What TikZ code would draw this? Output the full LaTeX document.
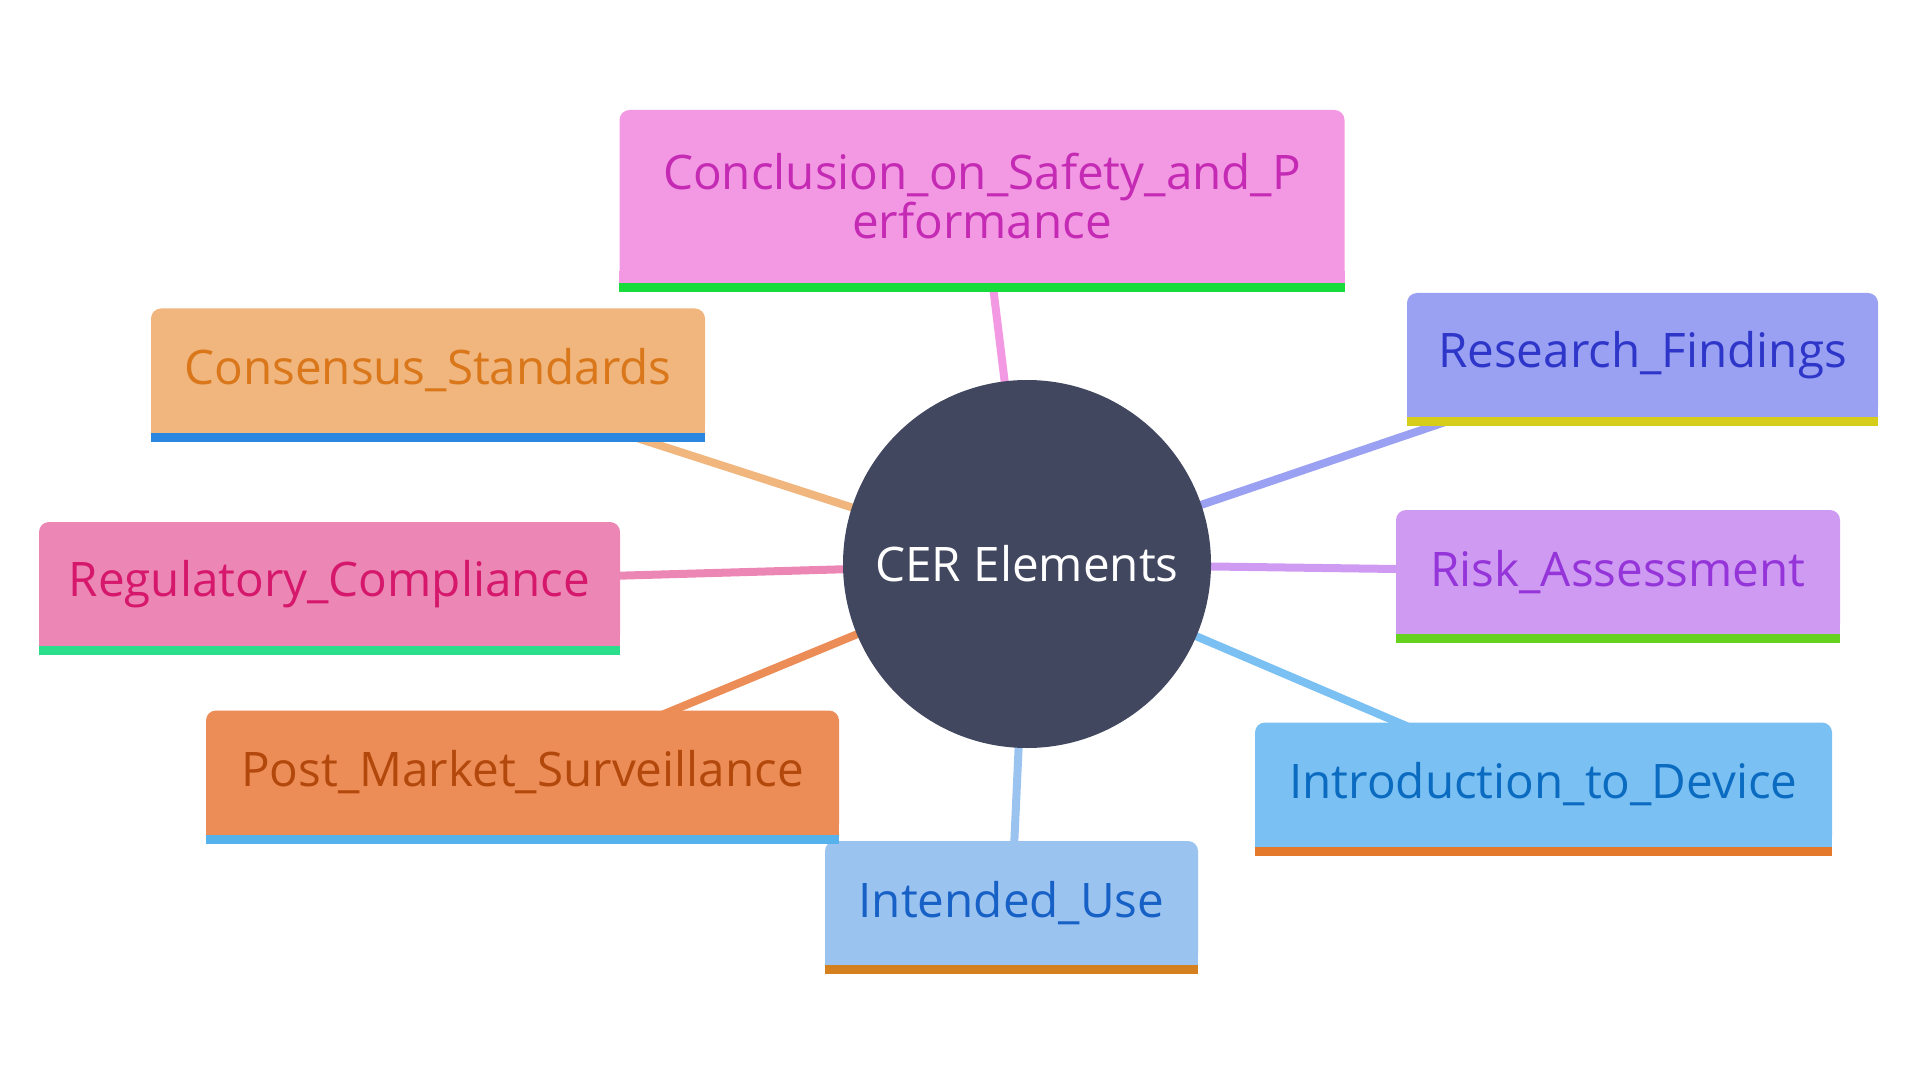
\documentclass[tikz,border=0pt]{standalone}
\usepackage{fontspec}
\setmainfont{Open Sans}
\usetikzlibrary{backgrounds}

\definecolor{hubfill}{HTML}{424760}
\definecolor{conclfill}{HTML}{F398E3}
\definecolor{concltext}{HTML}{C42AB4}
\definecolor{conclbar}{HTML}{18DB3C}
\definecolor{consfill}{HTML}{F0B67E}
\definecolor{constext}{HTML}{D9771A}
\definecolor{consbar}{HTML}{2A87E0}
\definecolor{resfill}{HTML}{9AA0F2}
\definecolor{restext}{HTML}{2D36C8}
\definecolor{resbar}{HTML}{D6CC1A}
\definecolor{regfill}{HTML}{EC86B4}
\definecolor{regtext}{HTML}{D6186C}
\definecolor{regbar}{HTML}{2ADE8C}
\definecolor{riskfill}{HTML}{CF9BF2}
\definecolor{risktext}{HTML}{9434D9}
\definecolor{riskbar}{HTML}{66D11E}
\definecolor{postfill}{HTML}{EC8C56}
\definecolor{posttext}{HTML}{B3480C}
\definecolor{postbar}{HTML}{56B2EC}
\definecolor{introfill}{HTML}{7BC0F2}
\definecolor{introtext}{HTML}{0A6BC0}
\definecolor{introbar}{HTML}{E5792B}
\definecolor{usefill}{HTML}{9BC3F0}
\definecolor{usetext}{HTML}{1660C6}
\definecolor{usebar}{HTML}{D4801F}

\begin{document}
\begin{tikzpicture}[x=0.5pt, y=-0.5pt, font=\fontsize{23.8}{24.5}\selectfont,
    hub/.style = {circle, fill=hubfill, text=white, minimum size=184pt, inner sep=0pt},
    leaf/.style = {rounded corners=5pt, minimum height=62pt, inner sep=0pt},
    link/.style = {line width=4pt}]
    \useasboundingbox (0,0) rectangle (1920,1080);

    \node[hub] (cer) at (1027, 564) {CER Elements};

    \node[leaf, fill=conclfill, text=concltext, minimum width=362.5pt, minimum height=86.5pt, align=center] (concl) at (982, 196.5) {Conclusion\_on\_Safety\_and\_P\\erformance};
    \node[leaf, fill=consfill, text=constext, minimum width=277pt] (cons) at (428, 370.5) {Consensus\_Standards};
    \node[leaf, fill=resfill, text=restext, minimum width=235.5pt] (res) at (1642.5, 355) {Research\_Findings};
    \node[leaf, fill=regfill, text=regtext, minimum width=290.5pt] (reg) at (329.5, 584) {Regulatory\_Compliance};
    \node[leaf, fill=riskfill, text=risktext, minimum width=222pt] (risk) at (1618, 572) {Risk\_Assessment};
    \node[leaf, fill=postfill, text=posttext, minimum width=316.5pt] (post) at (522.5, 772.5) {Post\_Market\_Surveillance};
    \node[leaf, fill=introfill, text=introtext, minimum width=288.5pt] (intro) at (1543.5, 784.5) {Introduction\_to\_Device};
    \node[leaf, fill=usefill, text=usetext, minimum width=186.5pt] (use) at (1011.5, 903) {Intended\_Use};

    % square bottoms and coloured bars
    \fill[conclfill] ([yshift=6pt]concl.south west) rectangle (concl.south east);
    \fill[conclbar] (concl.south west) rectangle ([yshift=-4.5pt]concl.south east);
    \fill[consfill] ([yshift=6pt]cons.south west) rectangle (cons.south east);
    \fill[consbar] (cons.south west) rectangle ([yshift=-4.5pt]cons.south east);
    \fill[resfill] ([yshift=6pt]res.south west) rectangle (res.south east);
    \fill[resbar] (res.south west) rectangle ([yshift=-4.5pt]res.south east);
    \fill[regfill] ([yshift=6pt]reg.south west) rectangle (reg.south east);
    \fill[regbar] (reg.south west) rectangle ([yshift=-4.5pt]reg.south east);
    \fill[riskfill] ([yshift=6pt]risk.south west) rectangle (risk.south east);
    \fill[riskbar] (risk.south west) rectangle ([yshift=-4.5pt]risk.south east);
    \fill[postfill] ([yshift=6pt]post.south west) rectangle (post.south east);
    \fill[postbar] (post.south west) rectangle ([yshift=-4.5pt]post.south east);
    \fill[introfill] ([yshift=6pt]intro.south west) rectangle (intro.south east);
    \fill[introbar] (intro.south west) rectangle ([yshift=-4.5pt]intro.south east);
    \fill[usefill] ([yshift=6pt]use.south west) rectangle (use.south east);
    \fill[usebar] (use.south west) rectangle ([yshift=-4.5pt]use.south east);

    \begin{scope}[on background layer]
    \draw[link, conclfill] (cer.center) -- (concl.center);
    \draw[link, consfill] (cer.center) -- (cons.center);
    \draw[link, resfill] (cer.center) -- (res.center);
    \draw[link, regfill] (cer.center) -- (reg.center);
    \draw[link, riskfill] (cer.center) -- (risk.center);
    \draw[link, postfill] (cer.center) -- (post.center);
    \draw[link, introfill] (cer.center) -- (intro.center);
    \draw[link, usefill] (cer.center) -- (use.center);
    \end{scope}

\end{tikzpicture}
\end{document}
